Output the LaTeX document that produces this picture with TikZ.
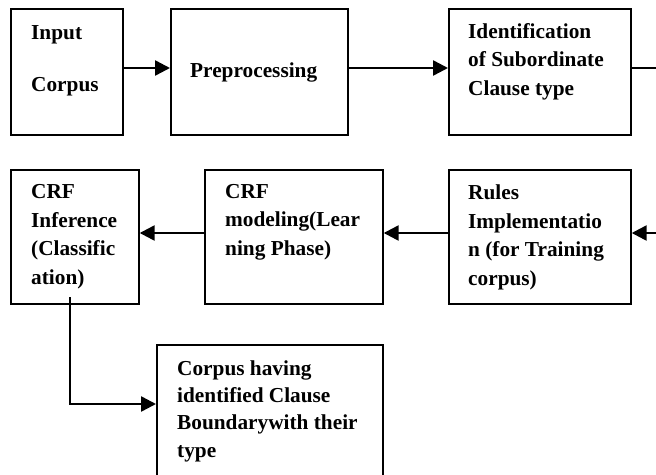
\documentclass[tikz,border=0pt]{standalone}
\usepackage{fontspec}
\setmainfont{Liberation Serif}
\usetikzlibrary{arrows.meta}
\begin{document}
\begin{tikzpicture}[x=1pt,y=-1pt,
  box/.style={draw=black, line width=1.7pt, inner sep=0pt, anchor=north west},
  lbl/.style={anchor=base west, inner sep=0pt, align=left,
    font=\fontsize{21.3}{28.4}\selectfont\bfseries},
  flow/.style={line width=2.5pt, -{Triangle[length=15pt,width=15pt]}},
]
\useasboundingbox (0,0) rectangle (656,474);
\clip (0,0) rectangle (656,474);
% boxes
\node[box, minimum width=112pt, minimum height=126pt] (input) at (10,8) {};
\node[box, minimum width=177pt, minimum height=126pt] (prep) at (170,8) {};
\node[box, minimum width=182pt, minimum height=126pt] (ident) at (448,8) {};
\node[box, minimum width=128pt, minimum height=134pt] (inf) at (10,169) {};
\node[box, minimum width=178pt, minimum height=134pt] (model) at (204,169) {};
\node[box, minimum width=182pt, minimum height=134pt] (rules) at (448,169) {};
\node[box, minimum width=226pt, minimum height=150pt] (corp) at (156,344) {};
% texts (anchored at the baseline of their last line)
\node[lbl] (tinput) at (31,91) {Input\\[23.6pt]Corpus};
\node[lbl] (tprep) at (190,77) {Preprocessing};
\node[lbl] (tident) at (468,95) {Identification\\of Subordinate\\Clause type};
\node[lbl] (tinf) at (31,284) {CRF\\Inference\\(Classific\\ation)};
\node[lbl] (tmodel) at (225,255) {CRF\\modeling(Lear\\ning Phase)};
\node[lbl] (trules) at (468,285) {Rules\\Implementatio\\n (for Training\\corpus)};
\node[lbl, font=\fontsize{21.3}{27.2}\selectfont\bfseries] (tcorp) at (177,457) {Corpus having\\identified Clause\\Boundarywith their\\type};
% helper coordinates
\coordinate (r1) at (0,68);
\coordinate (r2) at (0,233);
\coordinate (turn) at (680,68);
\coordinate (s) at (70,297);
\coordinate (k) at (70,404);
% connectors
\draw[flow] (input.east |- r1) -- (prep.west |- r1);
\draw[flow] (prep.east |- r1) -- (ident.west |- r1);
\draw[flow] (ident.east |- r1) -- (turn) |- (rules.east |- r2);
\draw[flow] (rules.west |- r2) -- (model.east |- r2);
\draw[flow] (model.west |- r2) -- (inf.east |- r2);
\draw[flow] (s) -- (k) -- (corp.west |- k);
\end{tikzpicture}
\end{document}
